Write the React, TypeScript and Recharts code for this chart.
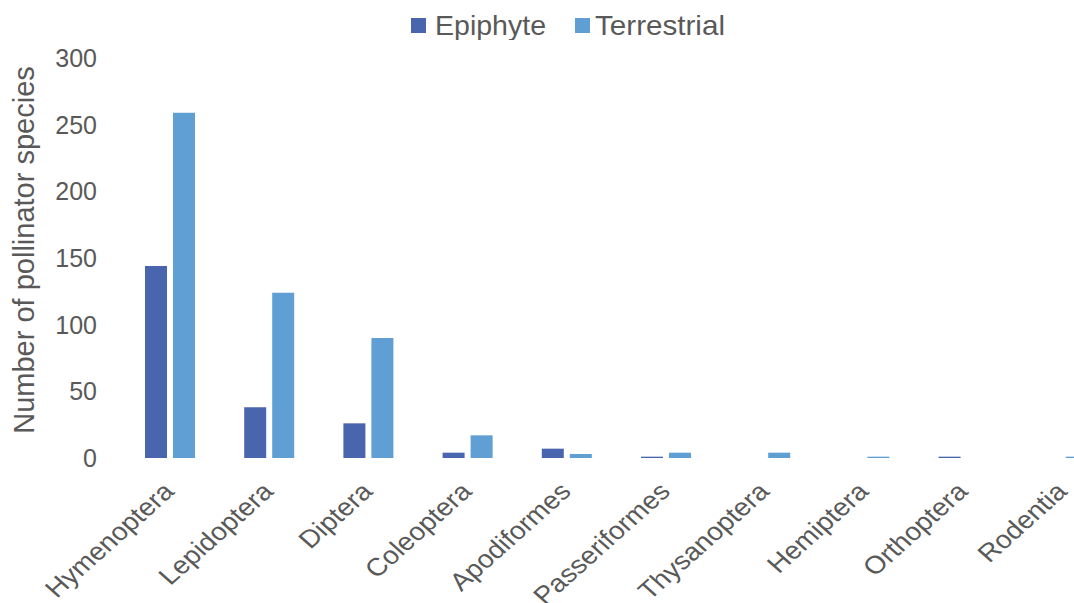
import React from 'react';
import { BarChart, Bar, XAxis, YAxis, Legend } from 'recharts';

const orders = [
  'Hymenoptera', 'Lepidoptera', 'Diptera', 'Coleoptera', 'Apodiformes',
  'Passeriformes', 'Thysanoptera', 'Hemiptera', 'Orthoptera', 'Rodentia',
];
const epiphyte = [144, 38, 26, 4, 7, 1, 0, 0, 1, 0];
const terrestrial = [259, 124, 90, 17, 3, 4, 4, 1, 0, 1];
const yTicks = [0, 50, 100, 150, 200, 250, 300];

const series = [
  { key: 'Epiphyte', color: '#4865ad' },
  { key: 'Terrestrial', color: '#5f9fd4' },
];

const data = orders.map((order, i) => ({
  order,
  Epiphyte: epiphyte[i],
  Terrestrial: terrestrial[i],
}));

const FONT = '"Liberation Sans", Arial, sans-serif';
const TEXT = '#595959';

// Slanted category labels, slightly widened horizontally
const OrderTick = (props: any) => {
  const { x, y, payload } = props;
  const ax = x + 6;
  const ay = y + 27;
  return (
    <text
      x={0}
      y={0}
      transform={`translate(${ax}, ${ay}) scale(1.12, 1) rotate(-45)`}
      textAnchor="end"
      fontFamily={FONT}
      fontSize={25}
      fill={TEXT}
    >
      {payload.value}
    </text>
  );
};

const AxisTitle = (props: any) => {
  const { viewBox } = props;
  const cx = viewBox.x + 24;
  const cy = 250;
  return (
    <text
      x={cx}
      y={cy}
      transform={`rotate(-90, ${cx}, ${cy})`}
      textAnchor="middle"
      dominantBaseline="central"
      fontFamily={FONT}
      fontSize={29}
      fill={TEXT}
    >
      Number of pollinator species
    </text>
  );
};

// Legend drawn as a small svg strip above the plot
const legendLayout = [
  { box: 411, text: 435, width: 111 },
  { box: 575, text: 595, width: 130 },
];

const LegendStrip = () => (
  <svg width={1074} height={40} style={{ display: 'block' }}>
    {series.map((s, i) => (
      <g key={s.key}>
        <rect x={legendLayout[i].box} y={18} width={15} height={15} fill={s.color} />
        <text
          x={legendLayout[i].text}
          y={35}
          fontFamily={FONT}
          fontSize={28}
          fill={TEXT}
          textLength={legendLayout[i].width}
          lengthAdjust="spacingAndGlyphs"
        >
          {s.key}
        </text>
      </g>
    ))}
  </svg>
);

export default function App() {
  return (
    <div
      style={{
        position: 'fixed',
        left: 0,
        top: 0,
        width: 1074,
        height: 603,
        overflow: 'hidden',
        background: '#fff',
      }}
    >
      <BarChart
        width={1112}
        height={640}
        data={data}
        margin={{ top: 18, right: 0, left: 0, bottom: 0 }}
        barSize={22}
        barGap={6}
      >
        <Legend
          verticalAlign="top"
          align="left"
          wrapperStyle={{ position: 'absolute', top: 0, left: 0, width: 1074, height: 40 }}
          content={<LegendStrip />}
        />
        <XAxis
          dataKey="order"
          axisLine={false}
          tickLine={false}
          interval={0}
          height={182}
          tick={<OrderTick />}
        />
        <YAxis
          width={120}
          domain={[0, 300]}
          ticks={yTicks}
          axisLine={false}
          tickLine={false}
          tickSize={0}
          tickMargin={23}
          tick={{ fontFamily: FONT, fontSize: 25, fill: TEXT }}
          label={<AxisTitle />}
        />
        {series.map((s) => (
          <Bar key={s.key} dataKey={s.key} fill={s.color} isAnimationActive={false} />
        ))}
      </BarChart>
    </div>
  );
}
